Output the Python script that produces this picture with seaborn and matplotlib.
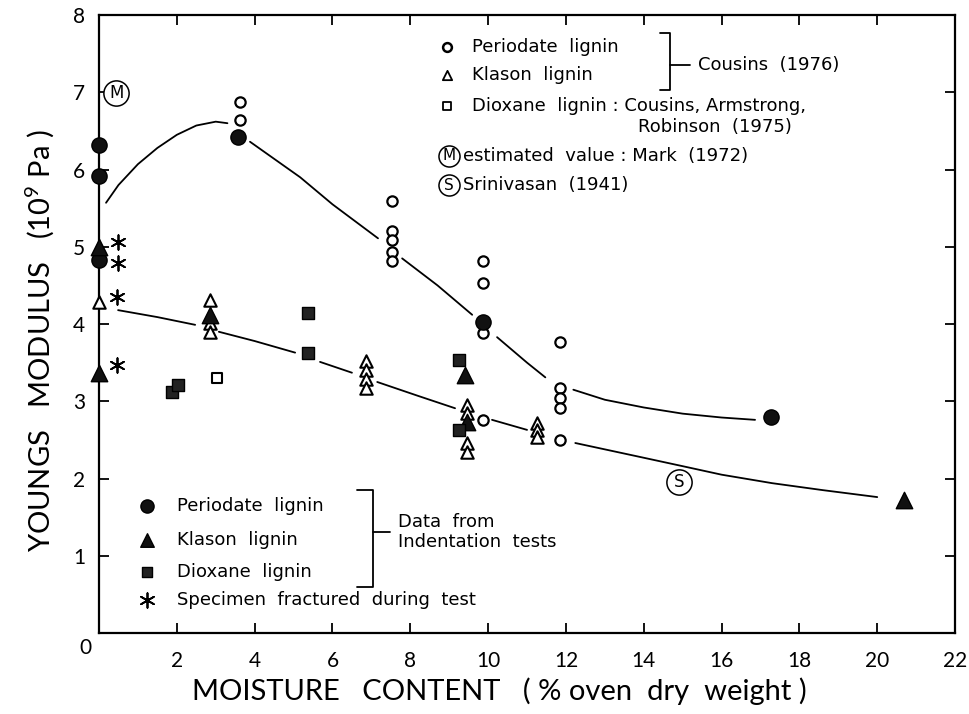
import numpy as np
import pandas as pd
import matplotlib
matplotlib.use("Agg")
import matplotlib.pyplot as plt
import seaborn as sns

# ---------------- data ----------------
# Cousins (1976) - open symbols
periodate_open_x = [3.63, 3.63, 7.53, 7.53, 7.53, 7.53, 7.53, 9.87, 9.87, 9.87, 9.87,
                    11.85, 11.85, 11.85, 11.85, 11.85]
periodate_open_y = [6.87, 6.64, 5.59, 5.20, 5.09, 4.93, 4.82, 4.82, 4.53, 3.88, 2.76,
                    3.77, 3.17, 3.04, 2.91, 2.50]
klason_open_x = [0.0, 2.85, 2.85, 2.85, 6.86, 6.86, 6.86, 6.86, 9.46, 9.46, 9.46, 9.46,
                 11.26, 11.26, 11.26]
klason_open_y = [4.28, 4.31, 4.01, 3.90, 3.52, 3.40, 3.29, 3.17, 2.95, 2.85, 2.46, 2.34,
                 2.72, 2.63, 2.54]
dioxane_open_x = [3.03]
dioxane_open_y = [3.30]

# Indentation tests - filled symbols
periodate_fill_x = [0.0, 0.0, 0.0, 3.57, 9.87, 17.27]
periodate_fill_y = [6.32, 5.92, 4.83, 6.42, 4.03, 2.80]
klason_fill_x = [0.0, 0.0, 2.85, 9.40, 9.46, 20.70]
klason_fill_y = [5.00, 3.37, 4.12, 3.34, 2.73, 1.72]
dioxane_fill_x = [1.88, 2.03, 5.37, 5.37, 9.25, 9.25]
dioxane_fill_y = [3.12, 3.21, 4.14, 3.62, 3.53, 2.63]
fractured_x = [0.48, 0.48, 0.45, 0.45]
fractured_y = [5.06, 4.79, 4.35, 3.47]

mark_x, mark_y = [0.44], [6.99]
srini_x, srini_y = [14.9], [1.95]

# Hand-drawn trend curves (segments are interrupted at the symbols)
upper_x = [0.18, 0.5, 1.0, 1.5, 2.0, 2.5, 3.0, 3.3,
           3.88, 5.17, 6.0, 7.17,
           7.79, 8.7, 9.59,
           10.23, 11.0, 11.47,
           12.19, 13.0, 14.0, 15.0, 16.0, 16.86]
upper_y = [5.57, 5.80, 6.07, 6.28, 6.45, 6.57, 6.62, 6.60,
           6.36, 5.90, 5.55, 5.11,
           4.85, 4.50, 4.12,
           3.83, 3.50, 3.31,
           3.15, 3.02, 2.92, 2.84, 2.79, 2.76]
upper_seg = [1] * 8 + [2] * 4 + [3] * 3 + [4] * 3 + [5] * 6

lower_x = [0.49, 1.5, 2.47,
           3.08, 4.0, 5.04,
           5.68, 6.5,
           7.15, 8.2, 9.15,
           10.1, 11.0,
           12.24, 13.9, 15.0, 16.0, 17.3, 18.6, 20.0]
lower_y = [4.18, 4.09, 3.99,
           3.90, 3.78, 3.63,
           3.51, 3.37,
           3.25, 3.07, 2.91,
           2.76, 2.63,
           2.46, 2.28, 2.16, 2.05, 1.94, 1.85, 1.76]
lower_seg = [1] * 3 + [2] * 3 + [3] * 2 + [4] * 3 + [5] * 2 + [6] * 7

x_ticks = [0, 2, 4, 6, 8, 10, 12, 14, 16, 18, 20, 22]
y_ticks = [0, 1, 2, 3, 4, 5, 6, 7, 8]

# ---------------- figure ----------------
sns.set_style("ticks")
plt.rcParams["font.family"] = ["DejaVu Sans"]
plt.rcParams["text.color"] = "black"
plt.rcParams["axes.labelcolor"] = "black"

THIN = ["Lato", "DejaVu Sans"]

fig = plt.figure(figsize=(9.69, 7.14), dpi=100)
ax = fig.add_axes([0.1022, 0.1134, 0.8834, 0.8655])

curves = pd.concat([
    pd.DataFrame({"x": upper_x, "y": upper_y, "seg": [f"u{s}" for s in upper_seg]}),
    pd.DataFrame({"x": lower_x, "y": lower_y, "seg": [f"l{s}" for s in lower_seg]}),
])
sns.lineplot(data=curves, x="x", y="y", units="seg", estimator=None, sort=False,
             color="black", lw=1.3, ax=ax, legend=False)

common = dict(ax=ax, clip_on=False, zorder=3, legend=False)
sns.scatterplot(x=periodate_open_x, y=periodate_open_y, marker="o", s=55,
                color="white", edgecolor="black", linewidth=1.6, **common)
sns.scatterplot(x=klason_open_x, y=klason_open_y, marker="^", s=80,
                color="white", edgecolor="black", linewidth=1.5, **common)
sns.scatterplot(x=dioxane_open_x, y=dioxane_open_y, marker="s", s=50,
                color="white", edgecolor="black", linewidth=1.5, **common)
sns.scatterplot(x=periodate_fill_x, y=periodate_fill_y, marker="o", s=120,
                color="#111111", edgecolor="black", linewidth=1.0, **common)
sns.scatterplot(x=klason_fill_x, y=klason_fill_y, marker="^", s=140,
                color="#111111", edgecolor="black", linewidth=1.0, **common)
sns.scatterplot(x=dioxane_fill_x, y=dioxane_fill_y, marker="s", s=85,
                color="#222222", edgecolor="black", linewidth=1.0, **common)
sns.scatterplot(x=fractured_x, y=fractured_y, marker=(6, 2, 0), s=110,
                color="black", linewidth=1.3, **common)

# circled letters
for xs, ys, letter in [(mark_x, mark_y, "M"), (srini_x, srini_y, "S")]:
    sns.scatterplot(x=xs, y=ys, marker="o", s=330, color="white",
                    edgecolor="black", linewidth=1.1, **common)
    ax.text(xs[0], ys[0], letter, ha="center", va="center", fontsize=12, zorder=4)

# axes formatting
ax.set_xlim(0, 22)
ax.set_ylim(0, 8)
ax.set_xticks(x_ticks)
ax.set_xticklabels([""] + [str(v) for v in x_ticks[1:]], family=THIN)
ax.set_yticks(y_ticks)
ax.set_yticklabels([""] + [str(v) for v in y_ticks[1:]], family=THIN)
ax.tick_params(direction="in", length=7, width=1.3, top=True, right=True,
               labelsize=15, colors="black")
ax.tick_params(axis="x", pad=13)
ax.tick_params(axis="y", pad=10)
for sp in ax.spines.values():
    sp.set_linewidth(1.6)
    sp.set_color("black")
ax.text(-0.36, -0.19, "0", ha="center", va="center", fontsize=15, clip_on=False,
        family=THIN)

ax.set_xlabel("MOISTURE   CONTENT   ( % oven  dry  weight )", fontsize=21,
              color="black", family=THIN)
ax.xaxis.set_label_coords(0.468, -0.072)
ax.set_ylabel("YOUNGS   MODULUS   ($\\mathregular{10^9}$ Pa )", fontsize=21,
              color="black", family=THIN)
ax.yaxis.set_label_coords(-0.05, 0.474)

# ---------------- in-plot legends (drawn as annotations) ----------------
T = ax.transAxes
lt = dict(transform=T, fontsize=13, va="center", ha="left")
lm = dict(transform=T, clip_on=False, zorder=3)

# upper legend (Cousins)
ax.scatter([0.4065], [0.948], marker="o", s=40, facecolor="white", edgecolor="black", linewidth=1.8, **lm)
ax.text(0.4357, 0.948, "Periodate  lignin", **lt)
ax.scatter([0.4065], [0.903], marker="^", s=45, facecolor="white", edgecolor="black", linewidth=1.3, **lm)
ax.text(0.4357, 0.903, "Klason  lignin", **lt)
ax.scatter([0.4065], [0.853], marker="s", s=40, facecolor="white", edgecolor="black", linewidth=1.3, **lm)
ax.text(0.4357, 0.853, "Dioxane  lignin : Cousins, Armstrong,", **lt)
ax.text(0.630, 0.819, "Robinson  (1975)", **lt)
ax.scatter([0.409], [0.772], marker="o", s=230, facecolor="white", edgecolor="black", linewidth=1.1, **lm)
ax.text(0.409, 0.772, "M", transform=T, fontsize=11, ha="center", va="center", zorder=4)
ax.text(0.425, 0.772, "estimated  value : Mark  (1972)", **lt)
ax.scatter([0.409], [0.725], marker="o", s=230, facecolor="white", edgecolor="black", linewidth=1.1, **lm)
ax.text(0.409, 0.725, "S", transform=T, fontsize=11, ha="center", va="center", zorder=4)
ax.text(0.425, 0.725, "Srinivasan  (1941)", **lt)
bk = dict(transform=T, color="black", lw=1.3, clip_on=False)
ax.plot([0.655, 0.667, 0.667, 0.655], [0.971, 0.971, 0.879, 0.879], **bk)
ax.plot([0.667, 0.690], [0.919, 0.919], **bk)
ax.text(0.700, 0.919, "Cousins  (1976)", **lt)

# lower legend (indentation tests)
ax.scatter([0.056], [0.2055], marker="o", s=90, facecolor="#111111", edgecolor="black", **lm)
ax.text(0.091, 0.2055, "Periodate  lignin", **lt)
ax.scatter([0.056], [0.150], marker="^", s=95, facecolor="#111111", edgecolor="black", **lm)
ax.text(0.091, 0.150, "Klason  lignin", **lt)
ax.scatter([0.056], [0.0987], marker="s", s=60, facecolor="#222222", edgecolor="black", **lm)
ax.text(0.091, 0.0987, "Dioxane  lignin", **lt)
ax.scatter([0.056], [0.0534], marker=(6, 2, 0), s=110, color="black", linewidth=1.3, **lm)
ax.text(0.091, 0.0534, "Specimen  fractured  during  test", **lt)
ax.plot([0.301, 0.320, 0.320, 0.301], [0.231, 0.231, 0.0744, 0.0744], **bk)
ax.plot([0.320, 0.340], [0.163, 0.163], **bk)
ax.text(0.349, 0.180, "Data  from", **lt)
ax.text(0.349, 0.147, "Indentation  tests", **lt)

fig.savefig("out.png", dpi=100, facecolor="white")
